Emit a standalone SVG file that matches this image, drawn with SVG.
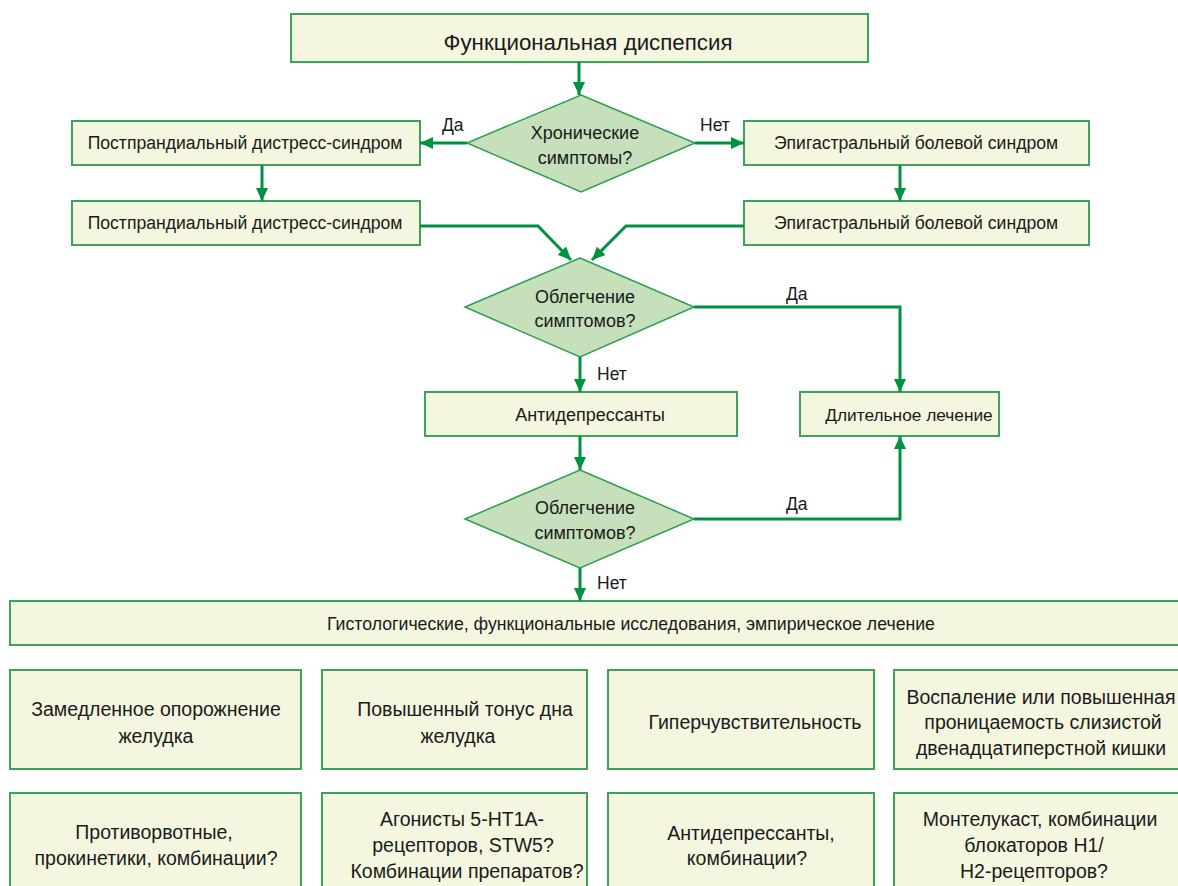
<svg xmlns="http://www.w3.org/2000/svg" width="1178" height="886" viewBox="0 0 1178 886">
<defs>
<marker id="ah" markerUnits="userSpaceOnUse" markerWidth="14" markerHeight="12" refX="13" refY="6" orient="auto">
<path d="M0,0 L13,6 L0,12 z" fill="#00923f"/>
</marker>
<style>
.box{fill:#f4f6df;stroke:#3aa655;stroke-width:2}
.dia{fill:#c5e0bb;stroke:#2e9e4f;stroke-width:1.5}
.t{font-family:"Liberation Sans",Arial,sans-serif;fill:#1a1a1a;text-anchor:middle}
.s17{font-size:17.6px}
.s18{font-size:18px}
.s20{font-size:19.5px}
.lbl{font-family:"Liberation Sans",Arial,sans-serif;font-size:17.5px;fill:#1a1a1a}
.c{fill:none;stroke:#00923f;stroke-width:3}
</style>
</defs>
<rect width="1178" height="886" fill="#ffffff"/>

<g id="n-fd"><rect class="box" x="291" y="14" width="577" height="48"/><text class="t" x="588" y="50" font-size="22.3">Функциональная диспепсия</text></g>
<g id="n-chronic"><polygon class="dia" points="581,95 695,143 581,192 467,143"/><text class="t s18" x="585" y="139">Хронические</text><text class="t s18" x="585" y="164">симптомы?</text></g>
<g id="n-pds1"><rect class="box" x="72" y="121" width="348" height="44"/><text class="t s17" x="245" y="149">Постпрандиальный дистресс-синдром</text></g>
<g id="n-eps1"><rect class="box" x="744" y="121" width="345" height="44"/><text class="t s17" x="916" y="149">Эпигастральный болевой синдром</text></g>
<g id="n-pds2"><rect class="box" x="72" y="201" width="348" height="44"/><text class="t s17" x="245" y="229">Постпрандиальный дистресс-синдром</text></g>
<g id="n-eps2"><rect class="box" x="744" y="201" width="345" height="44"/><text class="t s17" x="916" y="229">Эпигастральный болевой синдром</text></g>
<g id="n-relief1"><polygon class="dia" points="580,258 694,307 580,357 465,307"/><text class="t s18" x="585" y="303">Облегчение</text><text class="t s18" x="585" y="327">симптомов?</text></g>
<g id="n-ad"><rect class="box" x="425" y="392" width="312" height="44"/><text class="t s18" x="590" y="421">Антидепрессанты</text></g>
<g id="n-long"><rect class="box" x="800" y="392" width="199" height="44"/><text class="t" x="909" y="421" font-size="17.3">Длительное лечение</text></g>
<g id="n-relief2"><polygon class="dia" points="580,470 694,519 580,568 465,519"/><text class="t s18" x="585" y="514">Облегчение</text><text class="t s18" x="585" y="539">симптомов?</text></g>
<g id="n-hist"><rect class="box" x="10" y="601" width="1180" height="44"/><text class="t" x="631" y="630" font-size="17.7">Гистологические, функциональные исследования, эмпирическое лечение</text></g>

<g id="n-a1"><rect class="box" x="10" y="670" width="291" height="99"/><text class="t s20" x="156" y="716">Замедленное опорожнение</text><text class="t s20" x="156" y="743">желудка</text></g>
<g id="n-b1"><rect class="box" x="322" y="670" width="265" height="99"/><text class="t s20" x="465" y="716">Повышенный тонус дна</text><text class="t s20" x="458" y="743">желудка</text></g>
<g id="n-c1"><rect class="box" x="608" y="670" width="266" height="99"/><text class="t s20" x="755" y="729">Гиперчувствительность</text></g>
<g id="n-d1"><rect class="box" x="894" y="670" width="296" height="99"/><text class="t s20" x="1041" y="704">Воспаление или повышенная</text><text class="t s20" x="1043" y="729">проницаемость слизистой</text><text class="t s20" x="1041" y="755">двенадцатиперстной кишки</text></g>

<g id="n-a2"><rect class="box" x="10" y="793" width="291" height="110"/><text class="t s20" x="154" y="839">Противорвотные,</text><text class="t s20" x="156" y="865">прокинетики, комбинации?</text></g>
<g id="n-b2"><rect class="box" x="322" y="793" width="265" height="110"/><text class="t s20" x="462" y="826">Агонисты 5-HT1A-</text><text class="t s20" x="463" y="852">рецепторов, STW5?</text><text class="t s20" x="467" y="878">Комбинации препаратов?</text></g>
<g id="n-c2"><rect class="box" x="608" y="793" width="266" height="110"/><text class="t s20" x="751" y="840">Антидепрессанты,</text><text class="t s20" x="747" y="865">комбинации?</text></g>
<g id="n-d2"><rect class="box" x="894" y="793" width="296" height="110"/><text class="t s20" x="1040" y="826">Монтелукаст, комбинации</text><text class="t s20" x="1034" y="852">блокаторов H1/</text><text class="t s20" x="1034" y="878">H2-рецепторов?</text></g>

<g id="connectors">
<path class="c" d="M579,62 V95" marker-end="url(#ah)"/>
<path class="c" d="M467,143 H420" marker-end="url(#ah)"/>
<path class="c" d="M695,143 H744" marker-end="url(#ah)"/>
<path class="c" d="M262,165 V201" marker-end="url(#ah)"/>
<path class="c" d="M900,165 V201" marker-end="url(#ah)"/>
<path class="c" d="M420,226 H538 L571,260" marker-end="url(#ah)"/>
<path class="c" d="M744,226 H626 L592,260" marker-end="url(#ah)"/>
<path class="c" d="M580,357 V392" marker-end="url(#ah)"/>
<path class="c" d="M694,307 H900 V392" marker-end="url(#ah)"/>
<path class="c" d="M580,436 V470" marker-end="url(#ah)"/>
<path class="c" d="M694,519 H900 V436" marker-end="url(#ah)"/>
<path class="c" d="M580,568 V601" marker-end="url(#ah)"/>
<text class="lbl" x="442" y="131">Да</text>
<text class="lbl" x="700" y="131">Нет</text>
<text class="lbl" x="786" y="300">Да</text>
<text class="lbl" x="597" y="380">Нет</text>
<text class="lbl" x="786" y="510">Да</text>
<text class="lbl" x="597" y="589">Нет</text>
</g>
</svg>
